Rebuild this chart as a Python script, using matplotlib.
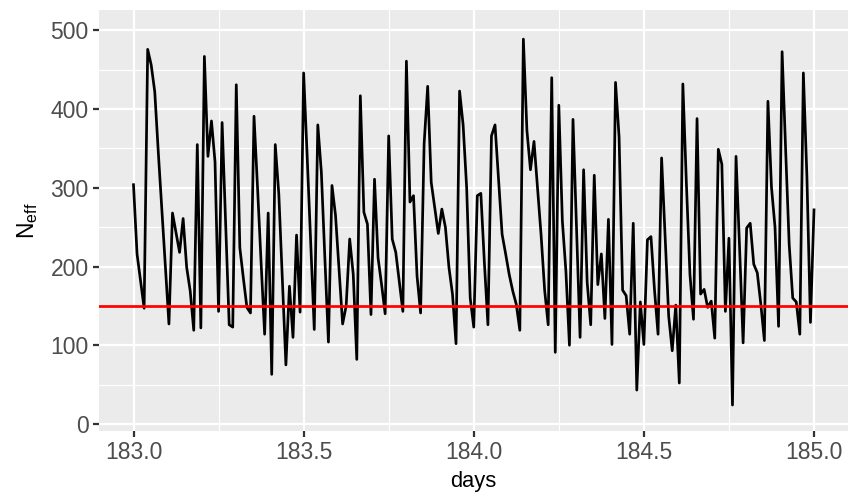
import numpy as np
import matplotlib
matplotlib.use("Agg")
import matplotlib.pyplot as plt

# effective sample size, every 15 minutes from day 183 to 185
step_index = np.arange(193)
neff = [
    304, 216, 182, 147, 476, 456, 422, 345, 272, 200,
    127, 268, 243, 218, 261, 199, 169, 119, 355, 122,
    467, 340, 385, 333, 143, 383, 255, 126, 123, 431,
    224, 185, 148, 141, 391, 300, 205, 114, 268, 63,
    355, 292, 185, 75, 175, 110, 240, 142, 446, 340,
    230, 120, 380, 320, 210, 104, 303, 265, 195, 127,
    150, 235, 190, 82, 417, 269, 254, 139, 311, 211,
    177, 140, 366, 235, 218, 180, 143, 461, 282, 290,
    188, 141, 356, 429, 307, 275, 242, 273, 250, 199,
    165, 102, 423, 380, 300, 160, 123, 290, 293, 205,
    126, 366, 380, 310, 241, 216, 190, 169, 152, 119,
    489, 373, 323, 359, 300, 240, 170, 126, 440, 91,
    405, 258, 194, 100, 387, 250, 110, 323, 180, 126,
    316, 177, 216, 134, 260, 101, 434, 365, 170, 163,
    114, 255, 43, 155, 101, 234, 238, 170, 114, 338,
    237, 137, 93, 151, 52, 432, 305, 190, 133, 388,
    165, 171, 148, 156, 109, 349, 330, 143, 236, 24,
    340, 224, 103, 249, 255, 203, 192, 152, 106, 410,
    301, 250, 124, 473, 348, 228, 160, 155, 114, 446,
    314, 129, 272,
]
days = 183 + step_index / 96
threshold = 150

x_ticks = [183.0, 183.5, 184.0, 184.5, 185.0]
y_ticks = [0, 100, 200, 300, 400, 500]

plt.rcParams["font.family"] = ["Liberation Sans", "DejaVu Sans"]
plt.rcParams["mathtext.fontset"] = "custom"
plt.rcParams["mathtext.rm"] = "Liberation Sans"

W, H = 848, 502
fig = plt.figure(figsize=(W / 150, H / 150), dpi=150)
ax = fig.add_axes([99 / W, 1 - 431 / H, 1 - 99 / W, (431 - 10) / H])
ax.set_facecolor("#EBEBEB")

for x in [183.25, 183.75, 184.25, 184.75]:
    ax.axvline(x, color="white", lw=0.55, zorder=0)
for y in [50, 150, 250, 350, 450]:
    ax.axhline(y, color="white", lw=0.55, zorder=0)
for x in x_ticks:
    ax.axvline(x, color="white", lw=1.1, zorder=0)
for y in y_ticks:
    ax.axhline(y, color="white", lw=1.1, zorder=0)

ax.plot(days, neff, color="black", lw=1.3, zorder=2)
ax.axhline(threshold, color="#FF0000", lw=1.3, zorder=3)

ax.set_xlim(183 - 34.5 / 340.25, 185 + 34 / 340.25)
ax.set_ylim(-9, 526)
ax.set_xticks(x_ticks)
ax.set_xticklabels([f"{v:.1f}" for v in x_ticks])
ax.set_yticks(y_ticks)

for s in ax.spines.values():
    s.set_visible(False)
ax.tick_params(axis="both", length=2.75, width=1.07, color="#333333",
               labelcolor="#4D4D4D", labelsize=11, pad=2.2)

ax.set_xlabel("days", fontsize=10.5, color="black", labelpad=3)
ax.set_ylabel(r"$\mathregular{N_{eff}}$", fontsize=11, color="black", labelpad=5)

fig.savefig("out.png", dpi=150, facecolor="white")
